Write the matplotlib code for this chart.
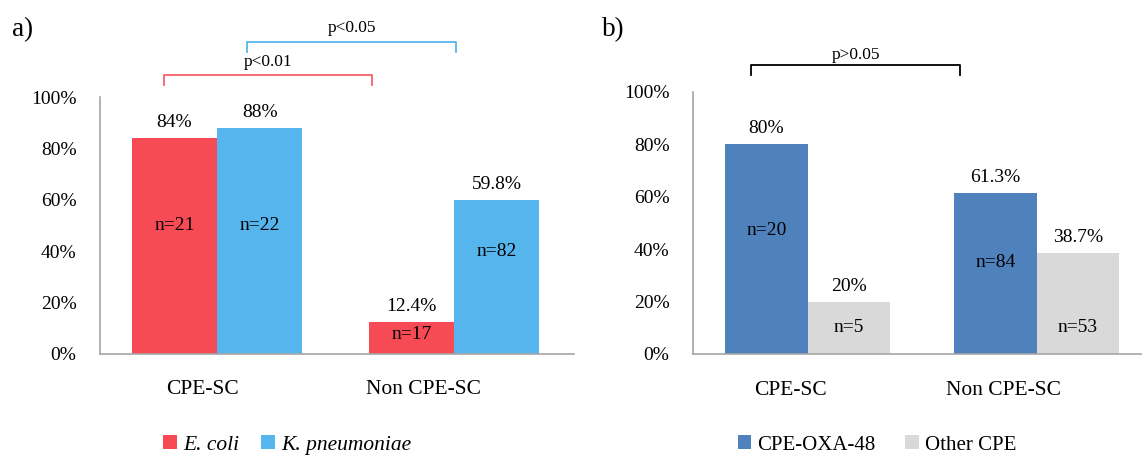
import numpy as np
import matplotlib.pyplot as plt

plt.rcParams['font.family'] = ['Liberation Serif', 'DejaVu Serif']

groups = ['CPE-SC', 'Non CPE-SC']

# panel a
ecoli = [84, 12.4]
kpn = [88, 59.8]
ecoli_n = [21, 17]
kpn_n = [22, 82]

# panel b
oxa = [80, 61.3]
other = [20, 38.7]
oxa_n = [20, 84]
other_n = [5, 53]

W, H = 1142, 455
fig = plt.figure(figsize=(W / 100, H / 100), dpi=100)


def px_axes(x0, x1, y_top, y_bot):
    return fig.add_axes([x0 / W, (H - y_bot) / H, (x1 - x0) / W, (y_bot - y_top) / H])


def style(ax, xlim, label_x):
    ax.set_ylim(0, 1)
    ax.set_xlim(*xlim)
    ax.set_yticks(np.arange(0, 1.01, 0.2))
    ax.set_yticklabels(['%d%%' % round(v * 100) for v in np.arange(0, 1.01, 0.2)])
    ax.set_xticks([])
    # category labels sit a little left of the bar groups, as in the original
    for lx, g in zip(label_x, groups):
        ax.text(lx, -0.14, g, ha='center', va='center', fontsize=15.5,
                transform=ax.get_xaxis_transform())
    ax.tick_params(axis='y', length=0, pad=17, labelsize=14)
    for s in ['top', 'right']:
        ax.spines[s].set_visible(False)
    for s in ['left', 'bottom']:
        ax.spines[s].set_color('#a6a6a6')
        ax.spines[s].set_linewidth(1.2)


def bars(ax, vals, ns, offset, color, label, n_y):
    x = np.arange(len(groups)) + offset
    ax.bar(x, np.array(vals) / 100, width=0.36, color=color, label=label, zorder=2)
    for xi, v, n, ny in zip(x, vals, ns, n_y):
        ax.annotate('%g%%' % v, (xi, v / 100), xytext=(0, 5), textcoords='offset points',
                    ha='center', va='bottom', fontsize=14)
        ax.text(xi, ny, 'n=%d' % n, ha='center', va='center', fontsize=14, zorder=3)


def bracket(ax, x0, x1, y, leg, color, text, ty):
    ax.plot([x0, x0, x1, x1], [y - leg, y, y, y - leg], color=color, lw=1.3,
            clip_on=False)
    ax.text((x0 + x1) / 2, ty, text, ha='center', va='center', fontsize=12.5, clip_on=False)


# ---- a) ----
ax1 = px_axes(100, 574, 97, 354)
style(ax1, (-0.494, 1.506), [-0.06, 0.87])
bars(ax1, ecoli, ecoli_n, -0.18, '#f64b55', 'E. coli', [0.50, 0.074])
bars(ax1, kpn, kpn_n, 0.18, '#55b5ec', 'K. pneumoniae', [0.50, 0.40])
bracket(ax1, -0.224, 0.654, 1.086, 0.04, '#f4606a', 'p<0.01', 1.136)
bracket(ax1, 0.127, 1.008, 1.214, 0.04, '#55b5ec', 'p<0.05', 1.268)
ax1.legend(loc='center', bbox_to_anchor=(287 / W, (H - 445) / H),
           bbox_transform=fig.transFigure, ncol=2, frameon=False,
           handlelength=0.65, handleheight=0.65, handletextpad=0.3,
           columnspacing=1.0, prop={'size': 15.5, 'style': 'italic'})

# ---- b) ----
ax2 = px_axes(693, 1142, 92, 354)
style(ax2, (-0.5, 1.46), [-0.074, 0.856])
bars(ax2, oxa, oxa_n, -0.18, '#4f81bd', 'CPE-OXA-48', [0.47, 0.35])
bars(ax2, other, other_n, 0.18, '#d9d9d9', 'Other CPE', [0.10, 0.10])
bracket(ax2, -0.245, 0.664, 1.103, 0.038, 'black', 'p>0.05', 1.141)
ax2.legend(loc='center', bbox_to_anchor=(877 / W, (H - 445) / H),
           bbox_transform=fig.transFigure, ncol=2, frameon=False,
           handlelength=0.65, handleheight=0.65, handletextpad=0.3,
           columnspacing=1.4, prop={'size': 15})

fig.text(12 / W, (H - 30) / H, 'a)', fontsize=19.5, va='center', ha='left')
fig.text(602 / W, (H - 30) / H, 'b)', fontsize=19.5, va='center', ha='left')

fig.savefig('out.png', dpi=100)
